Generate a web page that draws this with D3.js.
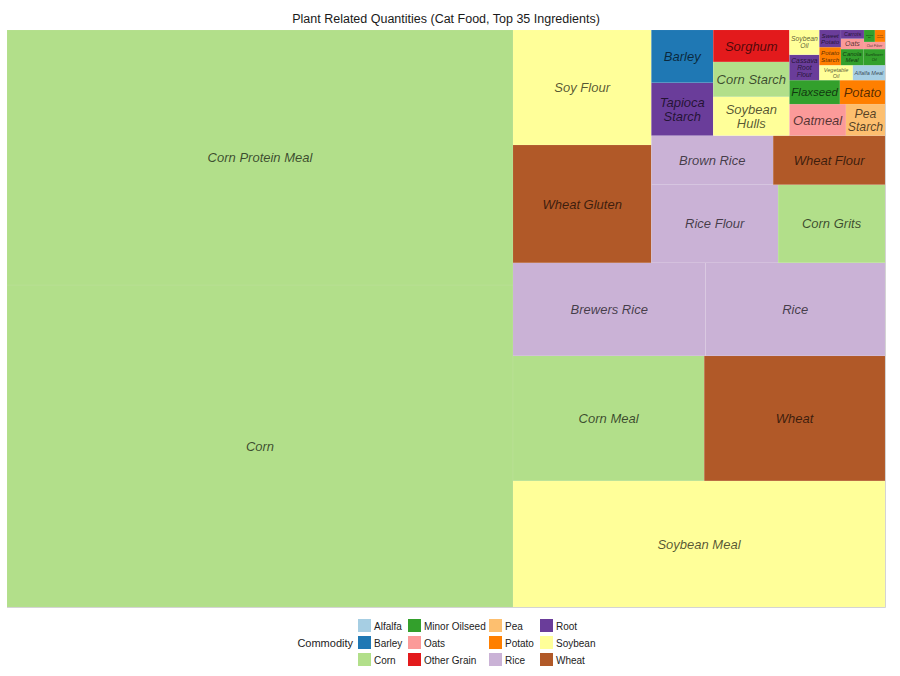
<!DOCTYPE html>
<html>
<head>
<meta charset="utf-8">
<script src="https://cdn.jsdelivr.net/npm/d3@7"></script>
<style>
  body { margin: 0; background: #fff; }
  text { font-family: "Liberation Sans", Arial, sans-serif; }
</style>
</head>
<body>
<div id="d3-container"></div>
<script>
// values (relative quantities)
const ingredients = ["Corn", "Corn Protein Meal", "Soybean Meal", "Corn Meal", "Wheat",
  "Brewers Rice", "Rice", "Wheat Gluten", "Soy Flour", "Rice Flour", "Corn Grits",
  "Brown Rice", "Wheat Flour", "Tapioca Starch", "Barley", "Soybean Hulls", "Corn Starch",
  "Sorghum", "Oatmeal", "Pea Starch", "Flaxseed", "Potato", "Cassava Root Flour",
  "Soybean Oil", "Vegetable Oil", "Alfalfa Meal", "Potato Starch", "Sweet Potato",
  "Canola Meal", "Sunflower Oil", "Oats", "Carrots", "Oat Fiber", "Canola Oil", "Dried Potato"];
const commodities = ["Corn", "Corn", "Soybean", "Corn", "Wheat",
  "Rice", "Rice", "Wheat", "Soybean", "Rice", "Corn",
  "Rice", "Wheat", "Root", "Barley", "Soybean", "Corn",
  "Other Grain", "Oats", "Pea", "Minor Oilseed", "Potato", "Root",
  "Soybean", "Soybean", "Alfalfa", "Potato", "Root",
  "Minor Oilseed", "Minor Oilseed", "Oats", "Root", "Oats", "Minor Oilseed", "Potato"];
const quantities = [1629, 1290, 469, 239, 226,
  179, 167, 163, 159, 99, 83.5,
  59.8, 54.9, 32.7, 32.6, 29.6, 26.6,
  24.3, 17.8, 12.3, 12.1, 10.8, 7.6,
  7.4, 5.0, 4.8, 3.9, 3.7,
  3.6, 3.5, 2.4, 2.0, 1.5, 1.3, 1.2];

const commodityNames = ["Alfalfa", "Barley", "Corn", "Minor Oilseed", "Oats", "Other Grain",
  "Pea", "Potato", "Rice", "Root", "Soybean", "Wheat"];
const commodityColors = ["#a6cee3", "#1f78b4", "#b2df8a", "#33a02c", "#fb9a99", "#e31a1c",
  "#fdbf6f", "#ff7f00", "#cab2d6", "#6a3d9a", "#ffff99", "#b15928"];

const width = 900,
  height = 676,
  margin = { top: 30, bottom: 69, left: 7, right: 15 },
  maxFont = 13,
  lineH = 1.05;

const color = d3.scaleOrdinal()
  .domain(commodityNames)
  .range(commodityColors);

// layout in a unit square, then stretched to the panel (like treemapify)
const xScale = d3.scaleLinear()
  .domain([0, 1])
  .range([margin.left, width - margin.right]);
const yScale = d3.scaleLinear()
  .domain([0, 1])
  .range([height - margin.bottom, margin.top]);

const rows = ingredients.map((d, i) => ({ name: d, commodity: commodities[i], value: quantities[i] }));

const root = d3.hierarchy({ children: rows })
  .sum(d => d.value || 0)
  .sort((a, b) => b.value - a.value);

d3.treemap()
  .tile(d3.treemapSquarify.ratio(1))
  .size([1, 1])(root);

const svg = d3.select("#d3-container")
  .append("svg")
  .attr("width", width)
  .attr("height", height);

svg.append("text")
  .attr("x", (xScale(0) + xScale(1)) / 2)
  .attr("y", 23)
  .attr("text-anchor", "middle")
  .attr("font-size", 12.5)
  .attr("fill", "#1a1a1a")
  .text("Plant Related Quantities (Cat Food, Top 35 Ingredients)");

const leaves = root.leaves();

svg.append("g")
  .selectAll("rect")
  .data(leaves)
  .join("rect")
  .attr("x", d => xScale(d.x0))
  .attr("y", d => yScale(d.y1))
  .attr("width", d => xScale(d.x1) - xScale(d.x0))
  .attr("height", d => yScale(d.y0) - yScale(d.y1))
  .attr("fill", d => color(d.data.commodity))
  .attr("stroke", "#fff")
  .attr("stroke-opacity", 0.12)
  .attr("stroke-width", 0.5);

// faint panel edge
svg.append("path")
  .attr("d", `M${xScale(0)},${yScale(0) + 0.5}H${xScale(1) + 0.5}V${yScale(1)}`)
  .attr("fill", "none")
  .attr("stroke", "#d4d4d4")
  .attr("stroke-width", 1);

// label fitting (shrink + reflow)
const ctx = document.createElement("canvas").getContext("2d");
function textWidth(str, size) {
  ctx.font = `italic ${size}px "Liberation Sans"`;
  return ctx.measureText(str).width;
}
function wrap(words, size, maxW) {
  const lines = [];
  let line = words[0];
  for (let i = 1; i < words.length; i++) {
    const test = line + " " + words[i];
    if (textWidth(test, size) <= maxW) line = test;
    else { lines.push(line); line = words[i]; }
  }
  lines.push(line);
  return lines;
}
function fitLabel(label, w, h) {
  const words = label.split(" ");
  for (let size = maxFont; size >= 2; size -= 0.25) {
    let lines = [label];
    if (textWidth(label, size) > w) lines = wrap(words, size, w);
    const widest = d3.max(lines, l => textWidth(l, size));
    if (widest <= w && lines.length * size * lineH <= h) return { size, lines };
  }
  return { size: 2, lines: [label] };
}

svg.append("g")
  .selectAll("text")
  .data(leaves)
  .join("text")
  .attr("text-anchor", "middle")
  .attr("font-style", "italic")
  .attr("fill", "#000")
  .attr("fill-opacity", 0.68)
  .each(function (d) {
    const x0 = xScale(d.x0), x1 = xScale(d.x1), y0 = yScale(d.y1), y1 = yScale(d.y0);
    const pad = 1.5;
    const fit = fitLabel(d.data.name, x1 - x0 - 2 * pad, y1 - y0 - 2 * pad);
    const lh = fit.size * lineH;
    const cx = (x0 + x1) / 2, cy = (y0 + y1) / 2;
    const top = cy - (fit.lines.length * lh) / 2;
    d3.select(this)
      .attr("font-size", fit.size)
      .selectAll("tspan")
      .data(fit.lines)
      .join("tspan")
      .attr("x", cx)
      .attr("y", (l, i) => top + i * lh + lh * 0.5 + fit.size * 0.36)
      .text(l => l);
  });

// legend
const legend = svg.append("g")
  .attr("transform", "translate(0, 619)");

legend.append("text")
  .attr("x", 353)
  .attr("y", 28)
  .attr("text-anchor", "end")
  .attr("font-size", 11)
  .attr("fill", "#222")
  .text("Commodity");

const colX = [358, 408, 489, 540];
const items = legend.selectAll("g.item")
  .data(commodityNames)
  .join("g")
  .attr("class", "item")
  .attr("transform", (d, i) => `translate(${colX[Math.floor(i / 3)]}, ${(i % 3) * 17})`);

items.append("rect")
  .attr("width", 13)
  .attr("height", 13)
  .attr("fill", d => color(d));

items.append("text")
  .attr("x", 16)
  .attr("y", 10.5)
  .attr("font-size", 10)
  .attr("fill", "#222")
  .text(d => d);
</script>
</body>
</html>
